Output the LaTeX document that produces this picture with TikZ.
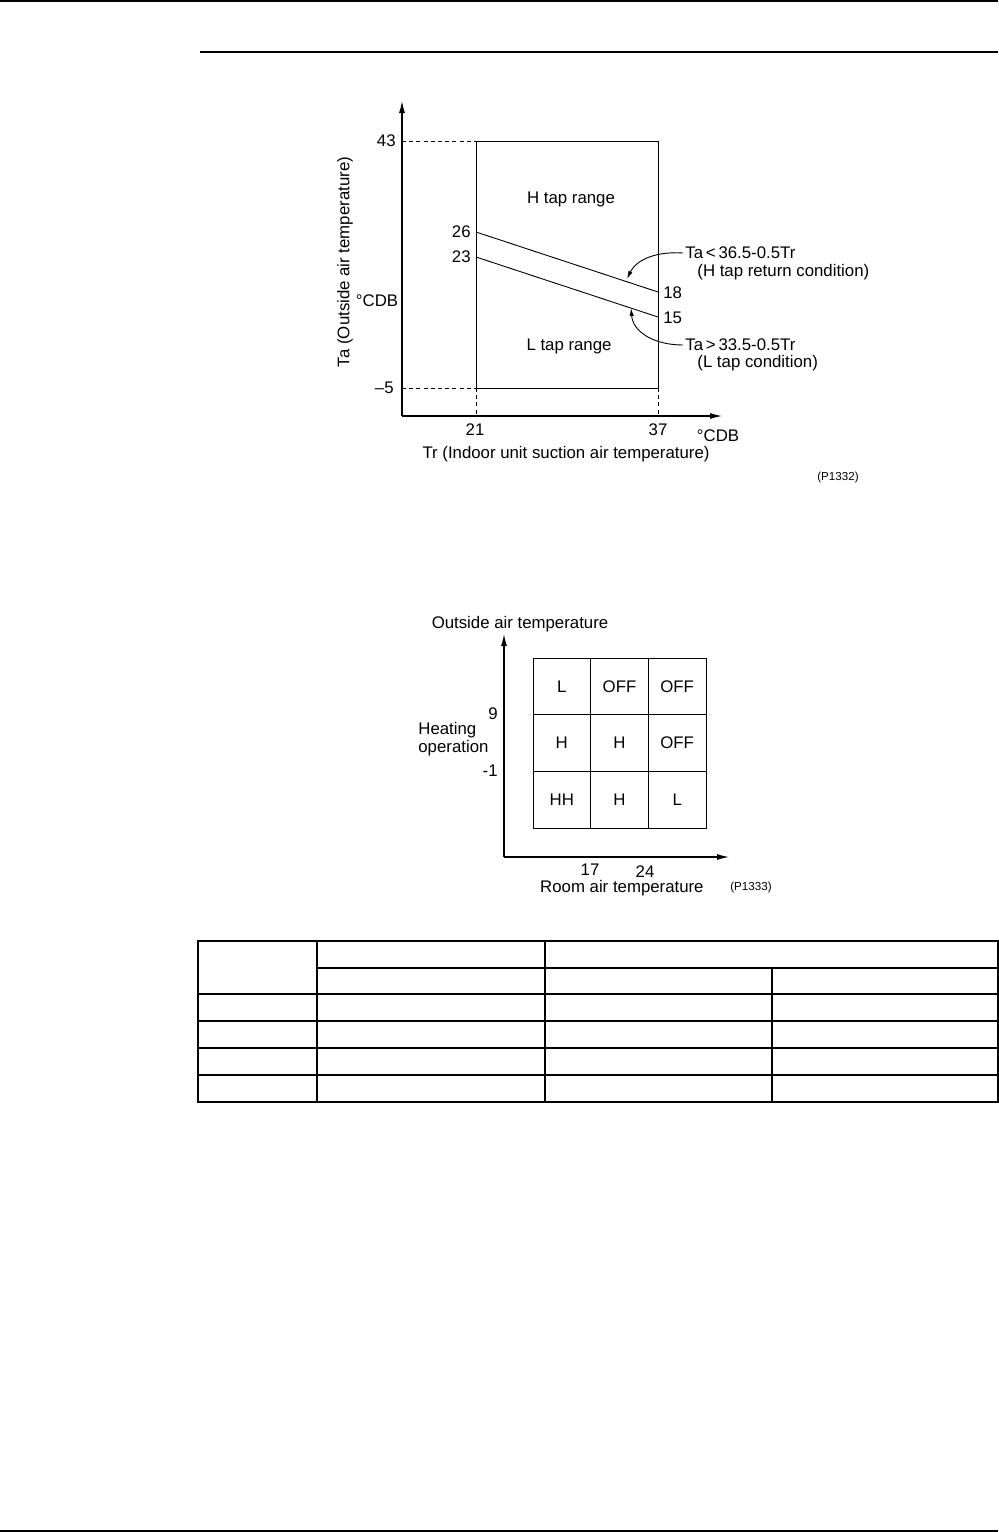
\documentclass[tikz,border=0pt]{standalone}
\usepackage{fontspec}
\setmainfont{Liberation Sans}
\usetikzlibrary{arrows.meta}
\tikzset{
  rule/.style={line width=0.75pt},
  axis/.style={line width=0.55pt,-{Latex[length=6pt,width=3pt]}},
  frame/.style={line width=0.5pt},
  guide/.style={line width=0.45pt,dash pattern=on 2pt off 1.6pt},
  tapline/.style={line width=0.45pt},
  pointer/.style={line width=0.45pt,-{Latex[length=4pt,width=2.2pt]}},
  txt/.style={font=\fontsize{8.4}{9}\selectfont,inner sep=1pt},
  num/.style={font=\fontsize{8.4}{9}\selectfont,inner sep=1pt},
  code/.style={font=\fontsize{5.8}{7}\selectfont,inner sep=0pt},
  cell/.style={draw,line width=0.5pt,minimum width=28.8pt,minimum height=28.3pt,
    inner sep=0pt,font=\fontsize{8.4}{9}\selectfont},
  tline/.style={line width=0.65pt},
}

\begin{document}
\begin{tikzpicture}[x=0.5pt,y=-0.5pt]
  \useasboundingbox (0,0) rectangle (998,1532);
  % ---- page rules ----
  \draw[rule] (0,1) -- (998,1);
  \draw[rule] (200,52) -- (998,52);
  \draw[rule] (0,1531) -- (998,1531);

  % ---- upper chart: H / L tap ranges ----
  \coordinate (org) at (402,416);
  \coordinate (ytip) at (402,101);
  \coordinate (xtip) at (722,416);
  \draw[axis] (org) -- (ytip);
  \draw[axis] (org) -- (xtip);
  \draw[frame] (476,141) rectangle (658,388);
  \draw[guide] (402,141) -- (476,141);
  \draw[guide] (402,388) -- (476,388);
  \draw[guide] (476,388) -- (476,416);
  \draw[guide] (658,388) -- (658,416);
  \coordinate (p26) at (476,232);
  \coordinate (p18) at (658,292);
  \coordinate (p23) at (476,257);
  \coordinate (p15) at (658,317);
  \draw[tapline] (p26) -- (p18);
  \draw[tapline] (p23) -- (p15);

  \node[num,anchor=east] (t43) at (398,141) {43};
  \node[num,anchor=east] (t26) at (473,232) {26};
  \node[num,anchor=east] (t23) at (473,257) {23};
  \node[num,anchor=east] (tm5) at (396,388) {–5};
  \node[num,anchor=west] (t18) at (661,293) {18};
  \node[num,anchor=west] (t15) at (661,318) {15};
  \node[num] (t21) at (475,430) {21};
  \node[num] (t37) at (658,430) {37};
  \node[txt] (ycdb) at (377,301) {°CDB};
  \node[txt] (xcdb) at (718,436) {°CDB};
  \node[txt,rotate=90] (ylab) at (345,262) {Ta (Outside air temperature)};
  \node[txt] (xlab) at (566,454) {Tr (Indoor unit suction air temperature)};
  \node[txt] (hrange) at (571,199) {H tap range};
  \node[txt] (lrange) at (569,346) {L tap range};
  \node[code] (fig1) at (838,477) {(P1332)};

  \node[txt,anchor=west] (hret) at (683,253) {Ta\,<\,36.5-0.5Tr};
  \node[txt,anchor=west] (hretc) at (695,272) {(H tap return condition)};
  \node[txt,anchor=west] (lcon) at (683,345) {Ta\,>\,33.5-0.5Tr};
  \node[txt,anchor=west] (lconc) at (695,363) {(L tap condition)};
  \coordinate (hhit) at (627,279);
  \coordinate (lhit) at (631,308);
  \draw[pointer] (hret.west) .. controls (652,251) and (635,262) .. (hhit);
  \draw[pointer] (lcon.west) .. controls (654,345) and (633,332) .. (lhit);

  % ---- lower chart: fan tap for heating ----
  \coordinate (org2) at (504,857);
  \coordinate (ytip2) at (504,634);
  \coordinate (xtip2) at (729,857);
  \draw[axis] (org2) -- (ytip2);
  \draw[axis] (org2) -- (xtip2);
  \foreach \row/\a/\b/\c in {1/L/OFF/OFF,2/H/H/OFF,3/HH/H/L}{
    \node[cell] (c\row1) at (561.8,629.7+56.67*\row) {\a};
    \node[cell] (c\row2) at (619.5,629.7+56.67*\row) {\b};
    \node[cell] (c\row3) at (677.2,629.7+56.67*\row) {\c};
  }
  \node[txt] (ylab2) at (520,624) {Outside air temperature};
  \node[num,anchor=east] (t9) at (500,714) {9};
  \node[num,anchor=east] (tm1) at (500,771) {-1};
  \node[txt,anchor=west,align=left,font=\fontsize{8.4}{7.6}\selectfont]
    (heat) at (416,739) {Heating\\operation};
  \node[num] (t17) at (590,870) {17};
  \node[num] (t24) at (645,872) {24};
  \node[txt,anchor=east] (xlab2) at (706,888) {Room air temperature};
  \node[code] (fig2) at (751,887) {(P1333)};

  % ---- empty table ----
  \draw[tline] (198,941) rectangle (998,1102);
  \draw[tline] (317,968) -- (998,968);
  \foreach \yy in {994,1021,1048,1075}
    \draw[tline] (198,\yy) -- (998,\yy);
  \draw[tline] (317,941) -- (317,1102);
  \draw[tline] (545,941) -- (545,1102);
  \draw[tline] (772,968) -- (772,1102);
\end{tikzpicture}
\end{document}
